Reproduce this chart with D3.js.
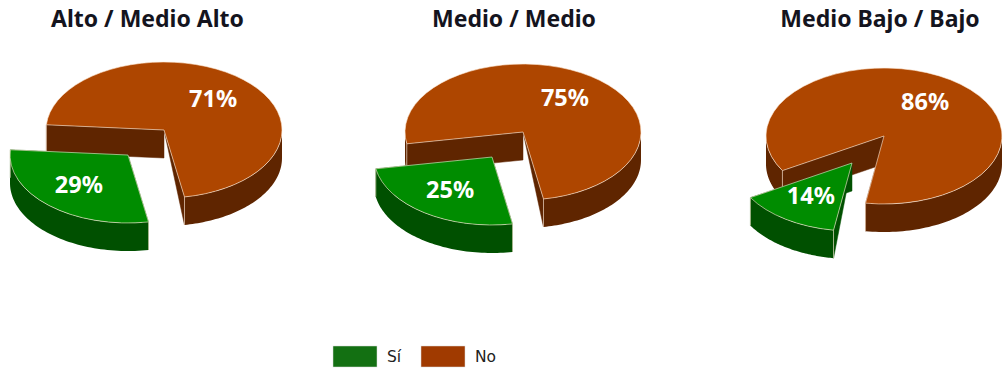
<!DOCTYPE html>
<html>
<head>
<meta charset="utf-8">
<script src="https://cdn.jsdelivr.net/npm/d3@7"></script>
<style>
  html, body { margin: 0; padding: 0; background: #fff; }
  svg { display: block; }
</style>
</head>
<body>
<svg id="chart" width="1005" height="371"></svg>
<script>
// Survey shares per socio-economic level
const categories = ["Alto / Medio Alto", "Medio / Medio", "Medio Bajo / Bajo"];
const answers = ["Sí", "No"];
const siValues = [29, 25, 14];
const noValues = [71, 75, 86];

// Placement of each 3D pie
const centers = [[164, 130], [523, 132], [884, 136]];
const explode = [[-36, 25], [-31, 25], [-32, 27]];
const rotations = [170, 170, 189];
const titleX = [147.5, 514, 880];

const rx = 118, ry = 68, depth = 28;
const topColors = { "Sí": "#008c00", "No": "#ae4600" };
const wallColors = { "Sí": "#005000", "No": "#5f2500" };
const legendColors = { "Sí": "#137012", "No": "#a03a00" };
const edge = "rgba(255,235,215,0.6)";
const font = "'Noto Sans', sans-serif";

const svg = d3.select("#chart");
const rad = d3.scaleLinear().domain([0, 360]).range([0, 2 * Math.PI]);
const px = a => rx * Math.sin(a);
const py = a => -ry * Math.cos(a);
const line = d3.line();
const topArc = d3.arc().innerRadius(0).outerRadius(rx);

// Outer rim of a slice, limited to the half of the ellipse facing the viewer
function rimPaths(a0, a1) {
  const out = [];
  for (const k of [-1, 0, 1, 2]) {
    const s = Math.max(a0, rad(90) + k * 2 * Math.PI);
    const e = Math.min(a1, rad(270) + k * 2 * Math.PI);
    if (e <= s) continue;
    const n = 60;
    const angles = d3.range(n + 1).map(i => s + (e - s) * i / n);
    const upper = angles.map(a => [px(a), py(a)]);
    const lower = angles.slice().reverse().map(a => [px(a), py(a) + depth]);
    out.push(line(upper.concat(lower)) + "Z");
  }
  return out;
}

categories.forEach((cat, i) => {
  const rows = [
    { answer: answers[0], value: siValues[i] },
    { answer: answers[1], value: noValues[i] }
  ];
  const start = rad(rotations[i]);
  const arcs = d3.pie().sort(null).value(d => d.value)
    .startAngle(start).endAngle(start + 2 * Math.PI)(rows);

  svg.append("text")
    .attr("x", titleX[i]).attr("y", 27)
    .attr("text-anchor", "middle")
    .attr("font-family", font).attr("font-weight", 700).attr("font-size", 23)
    .attr("fill", "#14141e")
    .text(cat);

  // The remaining share is drawn first so the pulled-out slice sits in front
  [arcs[1], arcs[0]].forEach(d => {
    const off = d.data.answer === answers[0] ? explode[i] : [0, 0];
    const g = svg.append("g")
      .attr("transform", `translate(${centers[i][0] + off[0]},${centers[i][1] + off[1]})`);
    const wall = wallColors[d.data.answer];

    // The edge at the rotation angle tapers to the hub; the other one is a full wall
    const a = d.startAngle, b = d.endAngle;
    const tapered = d.data.answer === answers[0] ? a : b;
    const full = d.data.answer === answers[0] ? b : a;
    g.append("path")
      .attr("d", line([[px(full), py(full)], [0, 0], [0, depth], [px(full), py(full) + depth]]) + "Z")
      .attr("fill", wall).attr("stroke", wall).attr("stroke-width", 0.5);
    g.append("path")
      .attr("d", line([[0, 0], [px(tapered), py(tapered)], [px(tapered), py(tapered) + depth]]) + "Z")
      .attr("fill", wall).attr("stroke", wall).attr("stroke-width", 0.5);

    // Outer rim
    rimPaths(a, b).forEach(p => {
      g.append("path").attr("d", p).attr("fill", wall);
    });

    g.append("path")
      .attr("d", line([[px(a), py(a)], [px(a), py(a) + depth]]))
      .attr("stroke", edge).attr("fill", "none");
    g.append("path")
      .attr("d", line([[px(b), py(b)], [px(b), py(b) + depth]]))
      .attr("stroke", edge).attr("fill", "none");

    // Top face: a circular sector flattened to the ellipse
    g.append("path")
      .attr("transform", `scale(1,${ry / rx})`)
      .attr("d", topArc({ startAngle: a, endAngle: b }))
      .attr("fill", topColors[d.data.answer])
      .attr("stroke", edge)
      .attr("stroke-width", 1)
      .attr("vector-effect", "non-scaling-stroke");

    const mid = (a + b) / 2;
    g.append("text")
      .attr("x", 0.62 * px(mid)).attr("y", 0.6 * py(mid) - 1)
      .attr("dy", "0.36em")
      .attr("text-anchor", "middle")
      .attr("font-family", font).attr("font-weight", 700).attr("font-size", 23.5)
      .attr("fill", "#fff")
      .text(d.data.value + "%");
  });
});

// Legend
const legendX = d3.scalePoint().domain(answers).range([333, 421]);
answers.forEach(name => {
  svg.append("rect")
    .attr("x", legendX(name)).attr("y", 346)
    .attr("width", 44).attr("height", 21)
    .attr("fill", legendColors[name])
    .attr("stroke", "#dcdcdc").attr("stroke-width", 0.5);
  svg.append("text")
    .attr("x", legendX(name) + 54).attr("y", 362)
    .attr("font-family", "'DejaVu Sans', sans-serif").attr("font-size", 15.5)
    .attr("fill", "#222")
    .text(name);
});
</script>
</body>
</html>
